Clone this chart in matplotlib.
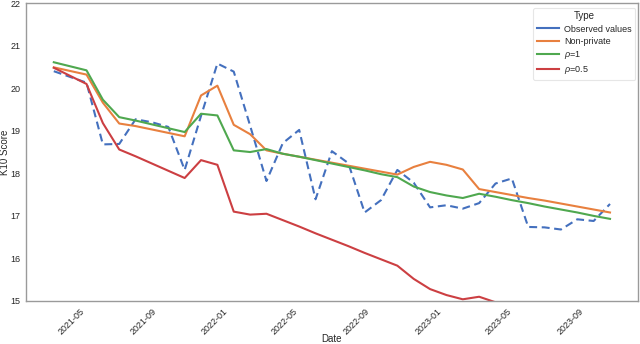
import matplotlib
matplotlib.use("Agg")
import matplotlib.pyplot as plt
import matplotlib.dates as mdates
from matplotlib.lines import Line2D
import pandas as pd
import numpy as np

# Dates: 4-weekly observations (one gap at the start)
dates = pd.to_datetime(["2021-03-06"]).append(pd.date_range("2021-05-01", periods=33, freq="28D"))

observed = [20.40, 20.13, 18.68, 18.69, 19.27, 19.20, 19.09, 18.08, 19.35, 20.58,
            20.39, 19.12, 17.82, 18.71, 19.02, 17.39, 18.52, 18.24, 17.08, 17.37,
            18.08, 17.78, 17.20, 17.25, 17.17, 17.30, 17.76, 17.88, 16.74, 16.73,
            16.68, 16.92, 16.88, 17.28]
non_private = [20.49, 20.32, 19.66, 19.17, 19.11, 19.03, 18.95, 18.87, 19.83, 20.06,
               19.14, 18.92, 18.54, 18.46, 18.39, 18.32, 18.25, 18.18, 18.11, 18.04,
               17.97, 18.15, 18.27, 18.20, 18.09, 17.63, 17.56, 17.49, 17.42, 17.36,
               17.29, 17.22, 17.15, 17.08]
rho1 = [20.61, 20.42, 19.73, 19.32, 19.24, 19.15, 19.06, 18.97, 19.40, 19.36,
        18.54, 18.50, 18.57, 18.46, 18.39, 18.31, 18.23, 18.15, 18.07, 17.98,
        17.91, 17.69, 17.56, 17.48, 17.42, 17.52, 17.45, 17.37, 17.30, 17.22,
        17.15, 17.08, 17.00, 16.93]
rho05 = [20.48, 20.10, 19.18, 18.56, 18.40, 18.23, 18.06, 17.89, 18.31, 18.20,
         17.10, 17.03, 17.05, 16.90, 16.75, 16.59, 16.44, 16.29, 16.13, 15.98,
         15.83, 15.52, 15.28, 15.14, 15.04, 15.10, 14.97, 14.88, 14.80, 14.72,
         14.65, 14.58, 14.50, 14.43]

labels = ["Observed values", "Non-private", r"$\rho$=1", r"$\rho$=0.5"]
colors = ["#4470BE", "#E8803F", "#4FA84F", "#CC3F42"]

plt.rcParams['font.family'] = ['Liberation Sans', 'DejaVu Sans']
plt.rcParams['mathtext.fontset'] = 'custom'
plt.rcParams['mathtext.it'] = 'Liberation Sans:italic'

fig = plt.figure(figsize=(6.4, 3.44), dpi=100)
ax = fig.add_axes([0.0406, 0.125, 0.956, 0.866])

lw = 1.5
ax.plot(dates, observed, color=colors[0], lw=lw, ls=(0, (3.8, 2.2)))
ax.plot(dates, non_private, color=colors[1], lw=lw)
ax.plot(dates, rho1, color=colors[2], lw=lw)
ax.plot(dates, rho05, color=colors[3], lw=lw)

ax.set_ylim(15, 22)
ax.xaxis.set_major_locator(mdates.MonthLocator(bymonth=[1, 5, 9]))
ax.xaxis.set_major_formatter(mdates.DateFormatter("%Y-%m"))
for lab in ax.get_xticklabels():
    lab.set_rotation(45)
    lab.set_ha("right")
ax.tick_params(axis='both', length=0, labelsize=6.5, colors='#262626')
ax.tick_params(axis='y', pad=4)
ax.tick_params(axis='x', pad=4)
for s in ax.spines.values():
    s.set_color('#9a9a9a')
    s.set_linewidth(1.0)

ax.set_xlabel("Date", fontsize=7, color='#262626')
ax.set_ylabel("K10 Score", fontsize=7, color='#262626')
ax.xaxis.set_label_coords(0.5, -0.11)
ax.xaxis.label.set_va('top')
ax.yaxis.set_label_coords(-0.026, 0.5)

handles = [Line2D([0], [0], color=c, lw=lw) for c in colors]
leg = ax.legend(handles, labels, title="Type", loc="upper right", fontsize=6.5,
                title_fontsize=7, frameon=True, fancybox=True,
                borderpad=0.4, labelspacing=0.35, handlelength=2.4,
                handletextpad=0.6, borderaxespad=0.0,
                bbox_to_anchor=(0.996, 0.984))
leg.get_frame().set_edgecolor('#e0e0e0')
leg.get_frame().set_linewidth(0.8)
for t in leg.get_texts():
    t.set_color('#262626')
leg.get_title().set_color('#262626')

fig.savefig("out.png", dpi=100)
